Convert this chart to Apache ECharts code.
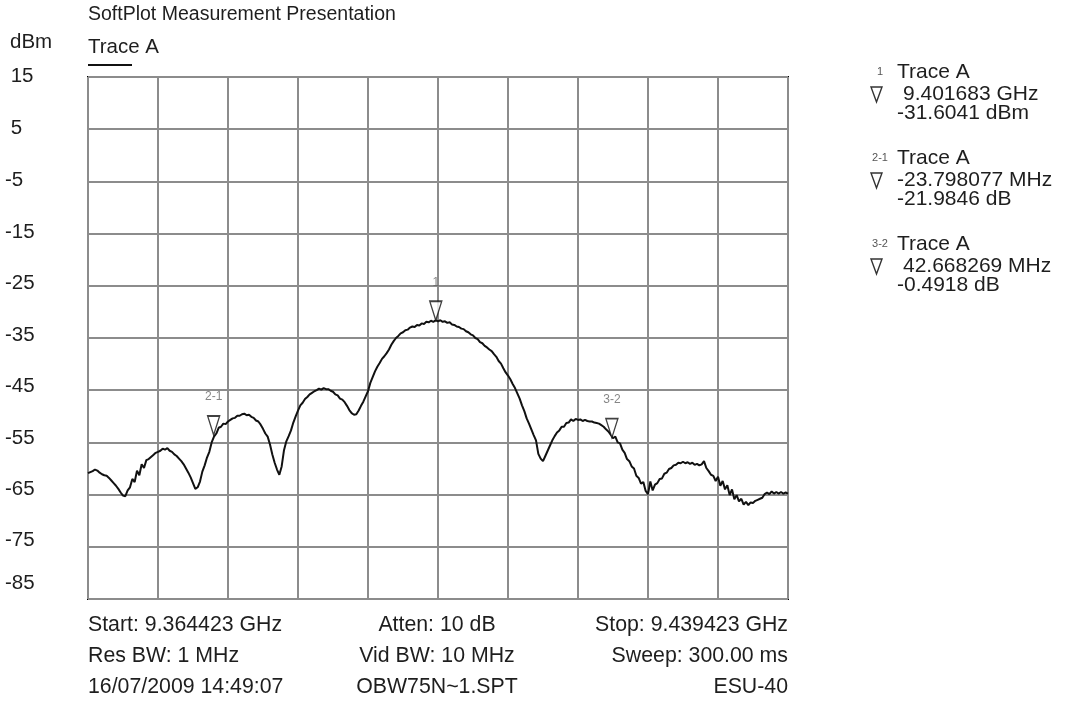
<!DOCTYPE html>
<html>
<head>
<meta charset="utf-8">
<title>SoftPlot Measurement Presentation</title>
<script src="https://cdn.jsdelivr.net/npm/echarts@6/dist/echarts.min.js"></script>
<style>
  html, body { margin: 0; padding: 0; background: #ffffff; }
  #chart { width: 1078px; height: 701px; }
</style>
</head>
<body>
<div id="chart"></div>
<script>
// ---- Sweep settings ----
const START_GHZ = 9.364423;
const STOP_GHZ = 9.439423;
const REF_TOP = 15;        // dBm at top graticule line
const REF_BOTTOM = -85;    // dBm at bottom graticule line
const DB_PER_DIV = 10;
const X_DIVS = 10;

// ---- Trace A, dBm, evenly spaced across the span (301 sweep points) ----
const traceDbm = [
  -60.9, -60.7, -60.5, -60.2, -60.4, -60.8, -61.1, -61.3, -61.4, -61.8, -62.3, -62.8, -63.3, -63.9, -64.6, -65.2, -65.3, -64.2, -63.6, -62.0,
  -62.6, -60.4, -61.3, -59.2, -59.9, -58.4, -58.2, -57.8, -57.4, -57.0, -56.8, -56.6, -56.2, -56.4, -56.1, -56.6, -56.8, -57.3, -57.6, -58.1,
  -58.6, -59.2, -60.0, -60.8, -61.7, -62.8, -63.9, -63.6, -62.5, -60.6, -59.4, -57.9, -56.8, -55.0, -53.9, -53.3, -52.2, -52.0, -51.4, -51.5,
  -51.0, -50.7, -50.4, -50.3, -49.9, -49.9, -49.6, -49.5, -49.8, -49.7, -50.1, -50.3, -50.8, -51.0, -51.6, -52.4, -53.3, -53.9, -55.4, -57.3,
  -58.9, -60.2, -61.2, -59.6, -56.5, -54.8, -53.8, -52.7, -51.2, -50.0, -48.9, -47.9, -47.4, -46.7, -46.3, -45.8, -45.5, -45.2, -45.0, -44.7,
  -44.9, -44.6, -44.8, -44.8, -45.1, -45.3, -45.8, -46.0, -46.6, -46.8, -47.3, -48.0, -48.8, -49.4, -49.7, -49.6, -48.9, -48.0, -47.2, -46.2,
  -45.2, -43.6, -42.5, -41.4, -40.5, -39.8, -39.0, -38.5, -37.9, -37.2, -36.3, -35.6, -35.0, -34.6, -34.1, -33.9, -33.5, -33.4, -33.0, -32.8,
  -32.9, -32.5, -32.6, -32.2, -32.3, -31.9, -32.0, -31.7, -31.9, -31.6, -31.8, -31.6, -31.9, -31.8, -32.1, -32.0, -32.4, -32.5, -32.8, -32.9,
  -33.2, -33.3, -33.7, -33.9, -34.3, -34.5, -35.0, -35.2, -35.8, -36.0, -36.5, -36.8, -37.2, -37.5, -38.1, -38.6, -39.4, -39.9, -40.8, -41.6,
  -42.2, -42.9, -43.8, -44.6, -45.6, -46.6, -47.9, -49.0, -50.4, -51.4, -52.5, -53.6, -54.6, -57.2, -58.1, -58.6, -57.6, -56.6, -55.6, -54.6,
  -53.8, -53.1, -52.7, -52.0, -52.0, -51.3, -51.2, -50.6, -50.9, -50.5, -50.7, -50.6, -50.9, -50.7, -50.9, -51.0, -51.0, -51.2, -51.3, -51.4,
  -51.7, -52.0, -52.5, -52.9, -53.5, -54.2, -53.9, -55.0, -55.2, -56.4, -57.0, -58.2, -58.6, -59.6, -60.0, -61.4, -61.8, -62.9, -62.6, -64.3,
  -64.9, -62.5, -64.2, -63.1, -62.8, -62.0, -61.9, -61.0, -60.8, -60.1, -59.9, -59.4, -59.3, -58.9, -59.0, -58.7, -59.0, -58.8, -59.1, -58.9,
  -59.3, -59.1, -59.4, -59.2, -58.6, -59.9, -60.5, -61.2, -61.4, -62.4, -61.6, -63.3, -62.4, -64.0, -63.2, -65.1, -64.0, -65.9, -65.1, -66.3,
  -65.8, -66.9, -66.4, -67.0, -66.5, -66.6, -66.2, -66.0, -65.8, -65.6, -64.9, -64.6, -64.9, -64.4, -64.8, -64.5, -64.8, -64.5, -64.8, -64.6,
  -64.8
];

// ---- Markers: one absolute marker, then delta markers (each relative to the previous one) ----
const marker1 = { name: '1', freqGHz: 9.401683, level: -31.6041 };
const deltaMarkers = [
  { name: '2-1', dMHz: -23.798077, dDb: -21.9846 },
  { name: '3-2', dMHz: 42.668269, dDb: -0.4918 }
];

// ---- Header / footer text ----
const titleText = 'SoftPlot Measurement Presentation';
const traceName = 'Trace A';
const yUnit = 'dBm';
const infoLeft = ['Start: 9.364423 GHz', 'Res BW: 1 MHz', '16/07/2009 14:49:07'];
const infoCenter = ['Atten: 10 dB', 'Vid BW: 10 MHz', 'OBW75N~1.SPT'];
const infoRight = ['Stop: 9.439423 GHz', 'Sweep: 300.00 ms', 'ESU-40'];

// ---- Derived scales ----
const spanMHz = Math.round((STOP_GHZ - START_GHZ) * 1e6) / 1e3;
const stepMHz = spanMHz / (traceDbm.length - 1);
const traceData = traceDbm.map((v, i) => [i * stepMHz, v]);

const m1Offset = Math.round((marker1.freqGHz - START_GHZ) * 1e9) / 1e6;
const markerPoints = [{ name: marker1.name, value: [m1Offset, marker1.level] }];
{
  let x = m1Offset, y = marker1.level;
  deltaMarkers.forEach(d => {
    x += d.dMHz; y += d.dDb;
    markerPoints.push({ name: d.name, value: [x, y] });
  });
}

// ---- Layout ----
const FONT = 'Arial, "Liberation Sans", sans-serif';
const FS = 20.5;         // axis labels, unit, legend
const FS_TITLE = 19.5;
const FS_INFO = 21.3;    // footer rows
const FS_PANEL = 21;     // marker readouts
const TXT = '#1e1e1e';
const G = { left: 88, top: 77, width: 700, height: 522 };
const textStyle = (text, size, extra) => Object.assign(
  { text, fill: TXT, font: size + 'px ' + FONT, verticalAlign: 'middle' }, extra || {});

// y tick labels sit a little above their graticule lines, more so toward the bottom
const nDivY = (REF_TOP - REF_BOTTOM) / DB_PER_DIV;
const yRich = {};
for (let k = 0; k <= nDivY; k++) {
  const lh = k === nDivY ? 31 : Math.max(1, 1.5 * k - 1.5);
  yRich['t' + k] = { fontSize: FS, fontFamily: FONT, color: TXT, lineHeight: lh };
}

// ---- Marker readout panel ----
const panel = [];
const readouts = [
  [marker1.freqGHz.toFixed(6) + ' GHz', marker1.level.toFixed(4) + ' dBm'],
  ...deltaMarkers.map(d => [d.dMHz.toFixed(6) + ' MHz', d.dDb.toFixed(4) + ' dB'])
];
const readoutSigns = [marker1.freqGHz, ...deltaMarkers.map(d => d.dMHz)];
markerPoints.forEach((m, i) => {
  const yb = 72 + 86 * i;
  panel.push({ type: 'text', x: 880, y: yb,
    style: { text: m.name, fill: '#555', font: '11px ' + FONT, align: 'center', verticalAlign: 'middle' } });
  panel.push({ type: 'text', x: 897, y: yb, style: textStyle(traceName, FS_PANEL) });
  panel.push({ type: 'polygon',
    shape: { points: [[871, yb + 15], [882, yb + 15], [876.5, yb + 30]] },
    style: { fill: 'none', stroke: '#333', lineWidth: 1.4 } });
  panel.push({ type: 'text', x: readoutSigns[i] < 0 ? 897 : 903, y: yb + 22, style: textStyle(readouts[i][0], FS_PANEL) });
  panel.push({ type: 'text', x: 897, y: yb + 41, style: textStyle(readouts[i][1], FS_PANEL) });
});

const footer = [];
const rowY = [625, 656, 687];
rowY.forEach((y, r) => {
  footer.push({ type: 'text', x: G.left, y, style: textStyle(infoLeft[r], FS_INFO, { align: 'left' }) });
  footer.push({ type: 'text', x: 437, y, style: textStyle(infoCenter[r], FS_INFO, { align: 'center' }) });
  footer.push({ type: 'text', x: G.left + G.width, y, style: textStyle(infoRight[r], FS_INFO, { align: 'right' }) });
});

const chart = echarts.init(document.getElementById('chart'), null, { renderer: 'canvas' });
chart.setOption({
  animation: false,
  backgroundColor: '#ffffff',
  grid: {
    left: G.left, top: G.top, width: G.width, height: G.height,
    show: true, borderColor: '#000', borderWidth: 2, backgroundColor: 'transparent'
  },
  xAxis: {
    type: 'value', min: 0, max: spanMHz, interval: spanMHz / X_DIVS,
    axisLine: { show: false }, axisTick: { show: false }, axisLabel: { show: false },
    splitLine: { show: true, lineStyle: { color: '#8c8c8c', width: 2 } }
  },
  yAxis: {
    type: 'value', min: REF_BOTTOM, max: REF_TOP, interval: DB_PER_DIV,
    axisLine: { show: false }, axisTick: { show: false },
    splitLine: { show: true, lineStyle: { color: '#8c8c8c', width: 2 } },
    axisLabel: {
      show: true, align: 'left', margin: 83, verticalAlign: 'bottom',
      formatter: v => {
        const k = Math.round((REF_TOP - v) / DB_PER_DIV);
        return '{t' + k + '|' + (v < 0 ? String(v) : ' ' + v) + '}';
      },
      rich: yRich
    }
  },
  series: [
    {
      name: traceName, type: 'line', data: traceData, showSymbol: false,
      lineStyle: { color: '#111', width: 2 }, z: 3
    },
    {
      name: 'markers', type: 'scatter', data: markerPoints,
      symbol: 'path://M0,0 L12,0 L6,19 Z', symbolSize: [12, 19], symbolOffset: [0, '-50%'],
      itemStyle: { color: '#ffffff', borderColor: '#111', borderWidth: 1.5 },
      label: { show: true, position: 'top', distance: 12, formatter: '{b}', color: '#666', fontSize: 12, fontFamily: FONT },
      z: 5
    }
  ],
  graphic: [
    { type: 'text', x: G.left, y: 15, style: textStyle(titleText, FS_TITLE) },
    { type: 'text', x: 10, y: 42, style: textStyle(yUnit, FS) },
    { type: 'text', x: G.left, y: 47, style: textStyle(traceName, FS) },
    { type: 'line', shape: { x1: G.left, y1: 65, x2: G.left + 44, y2: 65 }, style: { stroke: '#111', lineWidth: 2 } },
    ...panel,
    ...footer
  ]
});
</script>
</body>
</html>
